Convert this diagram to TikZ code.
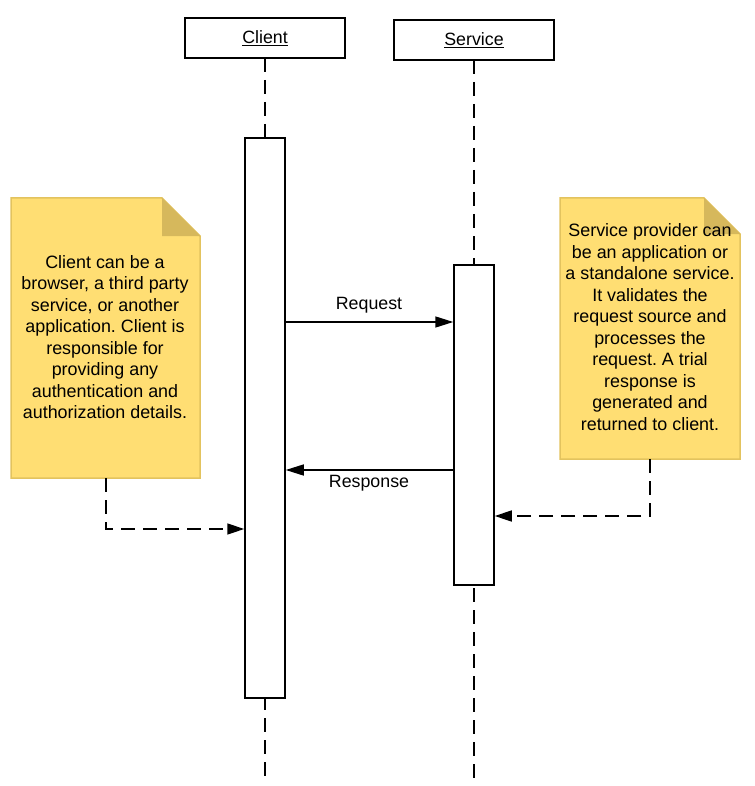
\documentclass[tikz,border=0pt]{standalone}
\usepackage{fontspec}
\setmainfont{Liberation Sans}
\usetikzlibrary{arrows.meta}
\frenchspacing
\definecolor{notefill}{HTML}{FFDE73}
\definecolor{noteline}{HTML}{E3C35E}
\definecolor{notefold}{HTML}{D6B85C}
\tikzset{
  header/.style={draw=black, line width=1.5pt, fill=white, minimum width=160pt, minimum height=40pt, inner sep=0pt, font=\fontsize{17.8}{20}\selectfont},
  actbox/.style={draw=black, line width=1.5pt, fill=white, minimum width=40pt, inner sep=0pt},
  lifeline/.style={draw=black, line width=1.5pt, dash pattern=on 14pt off 8pt},
  msg/.style={draw=black, line width=1.5pt, -{Triangle[length=18pt,width=11pt]}},
  notelink/.style={draw=black, line width=1.5pt, dash pattern=on 14pt off 8pt, -{Triangle[length=17pt,width=11pt]}},
  notetext/.style={align=center, font=\fontsize{17.9}{21.5}\selectfont, inner sep=0pt},
  msglabel/.style={font=\fontsize{17.8}{20}\selectfont, inner sep=0pt},
}
\begin{document}
\begin{tikzpicture}[x=1pt,y=-1pt]
\useasboundingbox (0,0) rectangle (754,786);
% lifelines
\coordinate (cl0) at (265,58);
\coordinate (cl1) at (265,782);
\coordinate (sl0) at (474,60);
\coordinate (sl1) at (474,782);
\draw[lifeline] (cl0) -- (cl1);
\draw[lifeline] (sl0) -- (sl1);
% headers
\node[header] (client) at (265,38) {\underline{Client}};
\node[header] (service) at (474,40) {\underline{Service}};
% activation boxes
\node[actbox, minimum height=560pt] (cact) at (265,418) {};
\node[actbox, minimum height=320pt] (sact) at (474,425) {};
% notes
\fill[notefill] (11,198) -- (162,198) -- (200,236) -- (200,478) -- (11,478) -- cycle;
\draw[noteline, line width=1.5pt] (11,198) -- (162,198) -- (200,236) -- (200,478) -- (11,478) -- cycle;
\fill[notefold] (162,198) -- (162,236) -- (200,236) -- cycle;
\node[notetext] (lnote) at (105,337) {Client can be a\\browser, a third party\\service, or another\\application. Client is\\responsible for\\providing any\\authentication and\\authorization details.};
\coordinate (lnb) at (106,478);
\fill[notefill] (560,198) -- (704,198) -- (740,234) -- (740,459) -- (560,459) -- cycle;
\draw[noteline, line width=1.5pt] (560,198) -- (704,198) -- (740,234) -- (740,459) -- (560,459) -- cycle;
\fill[notefold] (704,198) -- (704,234) -- (740,234) -- cycle;
\node[notetext] (rnote) at (650,327) {Service provider can\\be an application or\\a standalone service.\\It validates the\\request source and\\processes the\\request. A trial\\response is\\generated and\\returned to client.};
\coordinate (rnb) at (650,459);
% messages
\draw[msg] (cact.east |- 0,322) -- (sact.west |- 0,322);
\node[msglabel] (req) at (369,305) {Request};
\draw[msg] (sact.west |- 0,470) -- (cact.east |- 0,470);
\node[msglabel] (resp) at (369,483) {Response};
% note links
\draw[notelink] (lnb) |- (cact.west |- 0,529);
\draw[notelink] (rnb) |- (sact.east |- 0,516);
\end{tikzpicture}
\end{document}
